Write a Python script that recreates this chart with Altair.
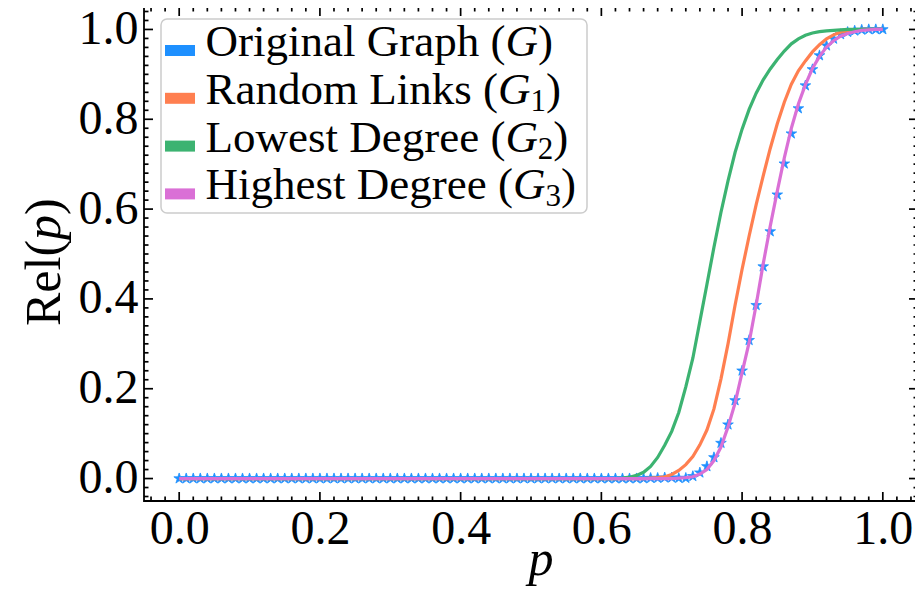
import altair as alt
import pandas as pd

# ---------------- data ----------------
p_values = [round(i * 0.01, 2) for i in range(101)]  # p grid 0.00 .. 1.00

flat_head = [0.0] * 60  # p = 0.00 .. 0.59 : all curves sit at 0

# p = 0.60 .. 1.00
rel_G_tail = [0.0, 0.0, 0.0, 0.0, 0.0, 0.0, 0.0, 0.001, 0.001, 0.002,
              0.002, 0.001, 0.001, 0.005, 0.013, 0.027, 0.047, 0.079, 0.120, 0.174,
              0.240, 0.308, 0.386, 0.472, 0.550, 0.632, 0.701, 0.768, 0.824, 0.875,
              0.911, 0.942, 0.964, 0.979, 0.989, 0.994, 0.997, 0.999, 1.0, 1.0, 1.0]
rel_G1_tail = [0.0, 0.0, 0.0, 0.0, 0.0, 0.0, 0.0, 0.001, 0.002, 0.004,
               0.009, 0.018, 0.031, 0.049, 0.075, 0.108, 0.155, 0.222, 0.300, 0.386,
               0.466, 0.540, 0.610, 0.674, 0.735, 0.790, 0.838, 0.878, 0.908, 0.930,
               0.950, 0.966, 0.979, 0.988, 0.994, 0.997, 0.999, 1.0, 1.0, 1.0, 1.0]
rel_G2_tail = [0.0, 0.0, 0.0, 0.001, 0.003, 0.007, 0.014, 0.027, 0.047, 0.074,
               0.105, 0.147, 0.204, 0.268, 0.350, 0.432, 0.515, 0.593, 0.663, 0.726,
               0.778, 0.822, 0.858, 0.888, 0.912, 0.933, 0.952, 0.968, 0.979, 0.987,
               0.992, 0.995, 0.997, 0.998, 0.999, 1.0, 1.0, 1.0, 1.0, 1.0, 1.0]
rel_G3_tail = [0.0, 0.0, 0.0, 0.0, 0.0, 0.0, 0.0, 0.0, 0.0, 0.0,
               0.0, 0.001, 0.002, 0.004, 0.010, 0.020, 0.040, 0.070, 0.115, 0.168,
               0.236, 0.303, 0.387, 0.478, 0.562, 0.640, 0.714, 0.780, 0.834, 0.877,
               0.913, 0.940, 0.961, 0.975, 0.985, 0.991, 0.995, 0.998, 0.999, 1.0, 1.0]

rel_G = flat_head + rel_G_tail
rel_G1 = flat_head + rel_G1_tail
rel_G2 = flat_head + rel_G2_tail
rel_G3 = flat_head + rel_G3_tail

series_keys = ["G", "G1", "G2", "G3"]
legend_main = ["Original Graph (", "Random Links (", "Lowest Degree (", "Highest Degree ("]
legend_sub = ["", "1", "2", "3"]
series_colors = ["#1E90FF", "#FF7F50", "#3CB371", "#DA70D6"]

x_tick_values = [0.0, 0.2, 0.4, 0.6, 0.8, 1.0]
y_tick_values = [0.0, 0.2, 0.4, 0.6, 0.8, 1.0]
x_minor_values = [-0.04, -0.02] + [round(0.02 * k, 2) for k in range(1, 51) if k % 10 != 0] + [1.02, 1.04]
y_minor_values = list(x_minor_values)

# ---------------- styling ----------------
FONT = "Liberation Serif"
W, H = 774, 494
XD = [-0.05, 1.05]
YD = [-0.05, 1.05]
TICK_FS = 48
LEG_FS = 45
SUB_FS = 31
TITLE_FS = 50
MAJ, MIN = 9, 4.5
STAR = ("M0,-1L0.225,-0.309L0.951,-0.309L0.363,0.118L0.588,0.809L0,0.382"
        "L-0.588,0.809L-0.363,0.118L-0.951,-0.309L-0.225,-0.309Z")

# Times / Liberation Serif advance widths (em)
ROMAN = {" ": .25, "(": .333, ")": .333, "O": .722, "r": .333, "i": .278, "g": .5,
         "n": .5, "a": .444, "l": .278, "G": .722, "p": .5, "h": .5, "R": .667,
         "d": .5, "o": .5, "m": .778, "L": .611, "k": .5, "s": .389, "w": .722,
         "e": .444, "t": .278, "D": .722, "H": .722}
ITAL = {"G": .722, "p": .5}


def tw(s, size, table=ROMAN):
    return sum(table[c] for c in s) * size


xs = alt.Scale(domain=XD, nice=False, zero=False)
ys = alt.Scale(domain=YD, nice=False, zero=False)

x_axis = alt.Axis(values=x_tick_values, format=".1f", ticks=False, tickSize=0,
                  domain=False, grid=False, labelFont=FONT, labelFontSize=TICK_FS,
                  labelColor="black", labelPadding=4, labelFlush=False,
                  labelOverlap=False, title=None)
y_axis = alt.Axis(values=y_tick_values, format=".1f", ticks=False, tickSize=0,
                  domain=False, grid=False, labelFont=FONT, labelFontSize=TICK_FS,
                  labelColor="black", labelPadding=6, labelFlush=False,
                  labelOverlap=False, title=None)

rows = []
for key, vals in zip(series_keys, [rel_G, rel_G1, rel_G2, rel_G3]):
    for p, v in zip(p_values, vals):
        rows.append({"p": p, "rel": v, "series": key})
df = pd.DataFrame(rows)

layers = []

# Original graph: star markers
layers.append(
    alt.Chart(df[df.series == "G"]).mark_point(
        shape=STAR, filled=True, size=125, color=series_colors[0],
        stroke=series_colors[0], strokeWidth=0.8, opacity=1
    ).encode(x=alt.X("p:Q", scale=xs, axis=x_axis),
             y=alt.Y("rel:Q", scale=ys, axis=y_axis))
)
# other graphs: lines
for key, col in zip(series_keys[1:], series_colors[1:]):
    layers.append(
        alt.Chart(df[df.series == key]).mark_line(color=col, strokeWidth=3.2).encode(
            x=alt.X("p:Q", scale=xs), y=alt.Y("rel:Q", scale=ys))
    )

# ---- inward ticks on four sides ----
def xticks(vals, length, side):
    d = pd.DataFrame({"v": vals})
    if side == "bottom":
        yy, yy2 = H, H - length
    else:
        yy, yy2 = 0, length
    return alt.Chart(d).mark_rule(color="black", strokeWidth=1.7).encode(
        x=alt.X("v:Q", scale=xs), y=alt.value(yy), y2=alt.value(yy2))


def yticks(vals, length, side):
    d = pd.DataFrame({"v": vals})
    if side == "left":
        xx, xx2 = 0, length
    else:
        xx, xx2 = W, W - length
    return alt.Chart(d).mark_rule(color="black", strokeWidth=1.7).encode(
        y=alt.Y("v:Q", scale=ys), x=alt.value(xx), x2=alt.value(xx2))


for side in ["bottom", "top"]:
    layers.append(xticks(x_tick_values, MAJ, side))
    layers.append(xticks(x_minor_values, MIN, side))
for side in ["left", "right"]:
    layers.append(yticks(y_tick_values, MAJ, side))
    layers.append(yticks(y_minor_values, MIN, side))

# ---- legend ----
one = pd.DataFrame({"a": [0]})
layers.append(
    alt.Chart(one).mark_rect(cornerRadius=6, fill="white", fillOpacity=0.8,
                             stroke="#cccccc", strokeWidth=1.5).encode(
        x=alt.value(17), x2=alt.value(443), y=alt.value(12), y2=alt.value(206))
)
LX0 = 61.5
for i, (main, sub, col) in enumerate(zip(legend_main, legend_sub, series_colors)):
    base_y = 49 + 47.8 * i
    layers.append(alt.Chart(one).mark_rect(color=col).encode(
        x=alt.value(21), x2=alt.value(51), y=alt.value(base_y - 11), y2=alt.value(base_y)))
    x = LX0
    layers.append(alt.Chart(one).mark_text(
        text=main, font=FONT, fontSize=LEG_FS, align="left", baseline="alphabetic",
        color="black").encode(x=alt.value(x), y=alt.value(base_y)))
    x += tw(main, LEG_FS)
    layers.append(alt.Chart(one).mark_text(
        text="G", font=FONT, fontSize=LEG_FS, fontStyle="italic", align="left",
        baseline="alphabetic", color="black").encode(x=alt.value(x), y=alt.value(base_y)))
    x += tw("G", LEG_FS, ITAL)
    if sub:
        layers.append(alt.Chart(one).mark_text(
            text=sub, font=FONT, fontSize=SUB_FS, align="left", baseline="alphabetic",
            color="black").encode(x=alt.value(x), y=alt.value(base_y + 7)))
        x += 0.5 * SUB_FS
    layers.append(alt.Chart(one).mark_text(
        text=")", font=FONT, fontSize=LEG_FS, align="left", baseline="alphabetic",
        color="black").encode(x=alt.value(x), y=alt.value(base_y)))

# ---- axis titles ----
layers.append(alt.Chart(one).mark_text(
    text="p", font=FONT, fontSize=TITLE_FS, fontStyle="italic", align="center",
    baseline="alphabetic", color="black").encode(x=alt.value(397), y=alt.value(568)))

ty = 319
tx = -84
layers.append(alt.Chart(one).mark_text(
    text="Rel(", font=FONT, fontSize=TITLE_FS, angle=270, align="left",
    baseline="alphabetic", color="black").encode(x=alt.value(tx), y=alt.value(ty)))
ty -= tw("Rel(", TITLE_FS)
layers.append(alt.Chart(one).mark_text(
    text="p", font=FONT, fontSize=TITLE_FS, fontStyle="italic", angle=270, align="left",
    baseline="alphabetic", color="black").encode(x=alt.value(tx), y=alt.value(ty)))
ty -= tw("p", TITLE_FS, ITAL)
layers.append(alt.Chart(one).mark_text(
    text=")", font=FONT, fontSize=TITLE_FS, angle=270, align="left",
    baseline="alphabetic", color="black").encode(x=alt.value(tx), y=alt.value(ty)))

chart = alt.layer(*layers).properties(
    width=W, height=H,
    autosize=alt.AutoSizeParams(type="none"),
    padding={"left": 136, "top": -1, "right": -3, "bottom": 85},
    background="white",
).configure_view(stroke="black", strokeWidth=1.8)

chart.save("out.html", embed_options={"renderer": "svg", "actions": False})
